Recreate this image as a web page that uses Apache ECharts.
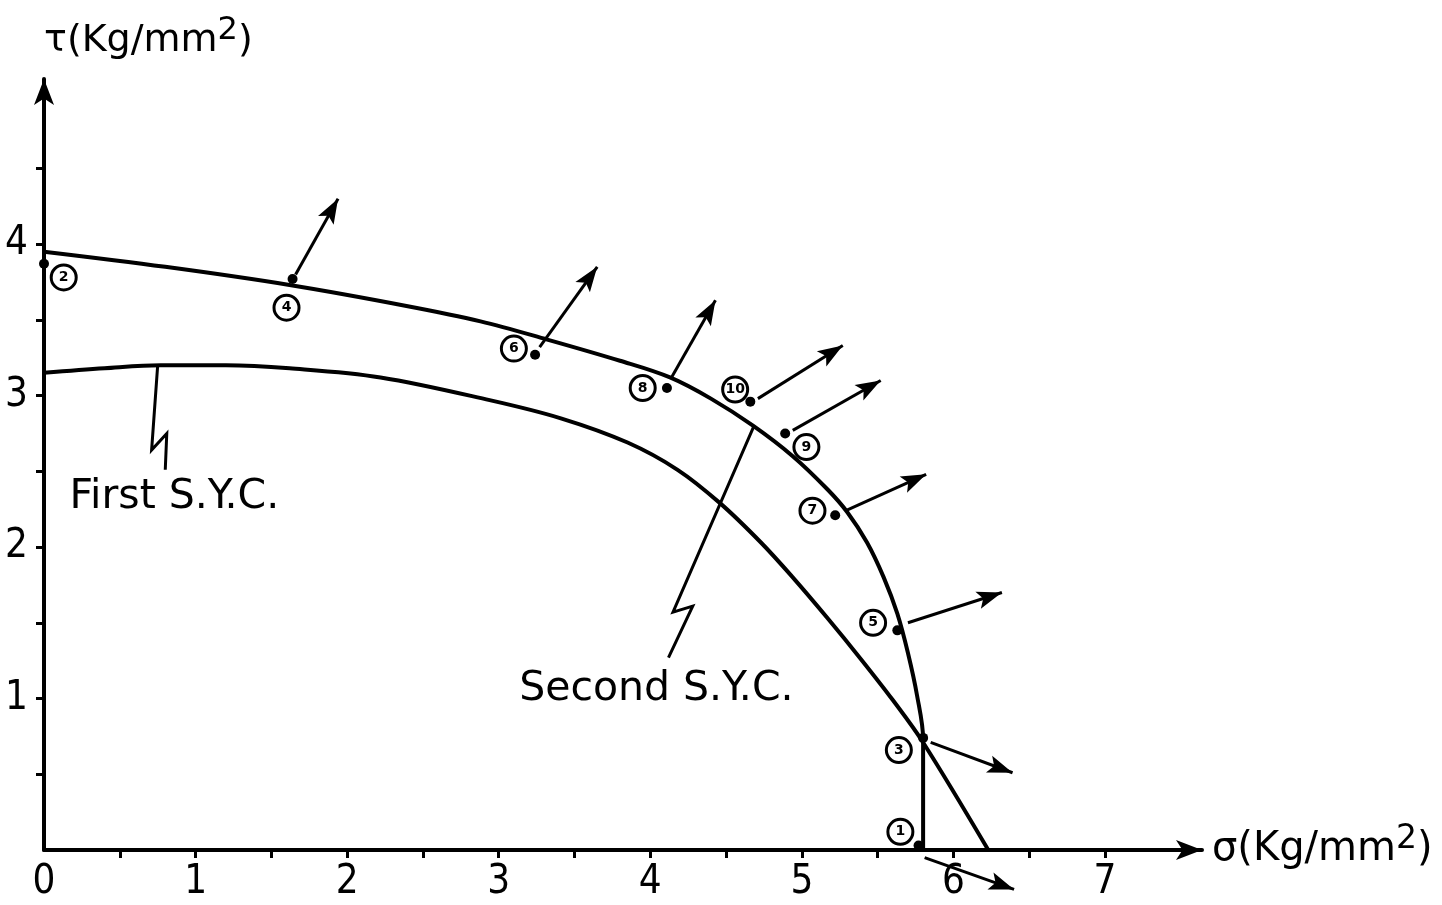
<!DOCTYPE html>
<html>
<head>
<meta charset="utf-8">
<script src="https://cdn.jsdelivr.net/npm/echarts@6/dist/echarts.min.js"></script>
<style>html,body{margin:0;padding:0;background:#fff;}#c{width:1442px;height:905px;}</style>
</head>
<body>
<div id="c"></div>
<script>
// ---- data ----
const xTickValues = [0.5,1,1.5,2,2.5,3,3.5,4,4.5,5,5.5,6,6.5,7];
const xLabelValues = [0,1,2,3,4,5,6,7];
const yTickValues = [0.5,1,1.5,2,2.5,3,3.5,4,4.5];
const yLabelValues = [1,2,3,4];

const firstSYC = [[0,3.15],[0.4,3.18],[0.77,3.20],[1.2,3.20],[1.62,3.18],[2.22,3.12],[2.94,2.97],[3.41,2.85],[3.85,2.69],[4.18,2.51],[4.46,2.29],[4.73,2.03],[4.94,1.80],[5.17,1.53],[5.39,1.26],[5.60,0.99],[5.80,0.71],[6.23,0]];
const secondSYC = [[0,3.95],[0.8,3.85],[1.62,3.73],[2.4,3.59],[2.88,3.49],[3.32,3.37],[3.80,3.23],[4.13,3.12],[4.40,2.98],[4.68,2.80],[4.94,2.60],[5.17,2.38],[5.30,2.23],[5.43,2.03],[5.54,1.80],[5.63,1.56],[5.70,1.30],[5.76,1.02],[5.80,0.73],[5.80,0]];

const pointIds = [1,2,3,4,5,6,7,8,9,10];
const pointValues = [[5.77,0.03],[0.0,3.87],[5.80,0.74],[1.64,3.77],[5.63,1.45],[3.24,3.27],[5.22,2.21],[4.11,3.05],[4.89,2.75],[4.66,2.96]];
const pointTagPos = [[5.65,0.12],[0.13,3.78],[5.64,0.66],[1.60,3.58],[5.47,1.50],[3.10,3.31],[5.07,2.24],[3.95,3.05],[5.03,2.66],[4.56,3.04]];

const arrowVectors = [
  [[5.81,-0.05],[6.40,-0.26]],
  [[5.85,0.71],[6.39,0.51]],
  [[1.66,3.80],[1.94,4.30]],
  [[5.70,1.50],[6.32,1.70]],
  [[3.27,3.32],[3.65,3.85]],
  [[5.29,2.24],[5.82,2.48]],
  [[4.14,3.12],[4.43,3.63]],
  [[4.94,2.77],[5.52,3.10]],
  [[4.71,2.98],[5.27,3.33]]
];
const firstPointer = [[0.80,2.51],[0.81,2.75],[0.71,2.64],[0.75,3.20]];
const secondPointer = [[4.12,1.27],[4.28,1.61],[4.15,1.57],[4.68,2.79]];
const curveNames = ['First S.Y.C.','Second S.Y.C.'];
const curveNamePos = [[0.86,2.33],[4.04,1.06]];

const FONT = "'DejaVu Sans','Liberation Sans',sans-serif";
const TICKFONT = "'DejaVu Sans Condensed','Liberation Sans Narrow','DejaVu Sans',sans-serif";
// spear-like arrow head, tip at the centre of its square box
const HEAD = 'path://M0,0 M56,56 M28,28 L38,56 L28,50 L18,56 Z';

const chart = echarts.init(document.getElementById('c'), null, {renderer:'canvas'});
chart.setOption({
  backgroundColor:'#ffffff',
  animation:false,
  grid:{left:44,right:240,top:79,bottom:55,containLabel:false},
  xAxis:{
    type:'value',min:0,max:7.64,
    name:'{a|σ(Kg/mm}{s|2}{a|)}',nameLocation:'end',nameGap:10,
    nameTextStyle:{rich:{
      a:{fontFamily:FONT,fontSize:40,color:'#000',lineHeight:54},
      s:{fontFamily:FONT,fontSize:33,color:'#000',verticalAlign:'top',lineHeight:33}
    }},
    axisLine:{lineStyle:{color:'#000',width:4},symbol:['none','arrow'],symbolSize:[15,26]},
    axisTick:{show:true,length:8,lineStyle:{color:'#000',width:3},customValues:xTickValues},
    axisLabel:{customValues:xLabelValues,margin:13,color:'#000',fontFamily:TICKFONT,fontSize:40},
    splitLine:{show:false}
  },
  yAxis:{
    type:'value',min:0,max:5.09,
    name:'{a|τ(Kg/mm}{s|2}{a|)}',nameLocation:'end',nameGap:12,
    nameTextStyle:{align:'left',rich:{
      a:{fontFamily:FONT,fontSize:38,color:'#000',lineHeight:52},
      s:{fontFamily:FONT,fontSize:32,color:'#000',verticalAlign:'top',lineHeight:32}
    }},
    axisLine:{lineStyle:{color:'#000',width:4},symbol:['none','arrow'],symbolSize:[15,26]},
    axisTick:{show:true,length:8,lineStyle:{color:'#000',width:3},customValues:yTickValues},
    axisLabel:{customValues:yLabelValues,margin:16,color:'#000',fontFamily:TICKFONT,fontSize:40},
    splitLine:{show:false}
  },
  series:[
    {type:'line',data:firstSYC,smooth:0.35,symbol:'none',lineStyle:{color:'#000',width:4},clip:false,z:3},
    {type:'line',data:secondSYC,smooth:0.35,symbol:'none',lineStyle:{color:'#000',width:4},clip:false,z:3},
    {type:'lines',coordinateSystem:'cartesian2d',clip:false,
      symbol:['none',HEAD],symbolSize:[1,50],
      lineStyle:{color:'#000',width:3,opacity:1},
      data:arrowVectors.map(c=>({coords:c})),z:4},
    {type:'lines',coordinateSystem:'cartesian2d',polyline:true,clip:false,
      symbol:['none',HEAD],symbolSize:[1,50],
      lineStyle:{color:'#000',width:3,opacity:1},
      data:[{coords:firstPointer},{coords:secondPointer}],z:4},
    {type:'scatter',data:pointValues,symbol:'circle',symbolSize:10,itemStyle:{color:'#000',opacity:1},clip:false,z:5},
    {type:'scatter',data:pointTagPos.map((p,i)=>({value:p,name:String(pointIds[i])})),
      symbol:'circle',symbolSize:25,clip:false,z:5,
      itemStyle:{color:'#fff',borderColor:'#000',borderWidth:3,opacity:1},
      label:{show:true,position:'inside',formatter:p=>p.name,color:'#000',fontFamily:FONT,fontWeight:'bold',fontSize:14}},
    {type:'scatter',data:curveNamePos.map((p,i)=>({value:p,name:curveNames[i]})),
      symbolSize:0,clip:false,z:5,itemStyle:{opacity:1},
      label:{show:true,position:'inside',formatter:p=>p.name,color:'#000',fontFamily:FONT,fontSize:41}}
  ]
});
</script>
</body>
</html>
